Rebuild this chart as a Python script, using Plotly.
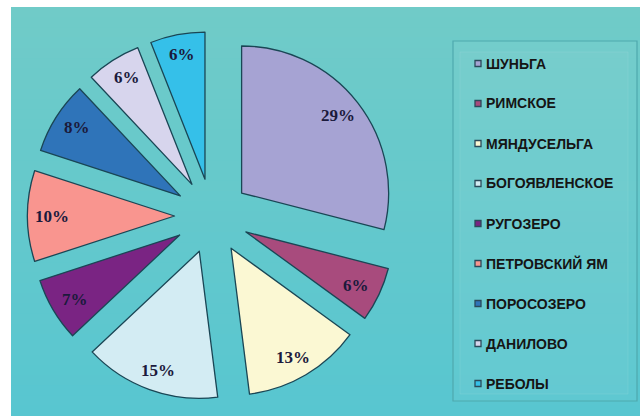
import math
import plotly.graph_objects as go

labels = ["ШУНЬГА", "РИМСКОЕ", "МЯНДУСЕЛЬГА", "БОГОЯВЛЕНСКОЕ", "РУГОЗЕРО",
          "ПЕТРОВСКИЙ ЯМ", "ПОРОСОЗЕРО", "ДАНИЛОВО", "РЕБОЛЫ"]
values = [29, 6, 13, 15, 7, 10, 8, 6, 6]
colors = ["#A6A3D3", "#A84B7D", "#FBF8D3", "#D3ECF3", "#7A2483",
          "#F9958F", "#2F74B9", "#D7D5ED", "#35C0E9"]

W, H = 640, 416
PULL = 0.255
# pie domain in pixels (left, right, top, bottom)
DX0, DX1, DY0, DY1 = 27.5, 396.5, 31.5, 400.5

fig = go.Figure()
fig.add_trace(go.Pie(
    labels=labels, values=values, sort=False, direction="clockwise", rotation=0,
    marker=dict(colors=colors, line=dict(color="#1A4655", width=1.3)),
    pull=[PULL] * len(values),
    textinfo="none", hoverinfo="label+percent",
    showlegend=False,
    domain=dict(x=[DX0 / W, DX1 / W], y=[1 - DY1 / H, 1 - DY0 / H]),
))

# percentage labels placed along each slice's mid-angle (same geometry as the pie)
cx, cy = (DX0 + DX1) / 2, (DY0 + DY1) / 2
r = min(DX1 - DX0, DY1 - DY0) / (2 * (1 + PULL))
total = sum(values)
annotations = []
cum = 0
for v in values:
    mid = (cum + v / 2) / total * 2 * math.pi
    cum += v
    ux, uy = math.sin(mid), -math.cos(mid)
    dist = PULL * r + 0.83 * r
    px, py = cx + ux * dist, cy + uy * dist * 1.03
    annotations.append(dict(x=px / W, y=1 - py / H, xref="paper", yref="paper",
                            text="<b>%d%%</b>" % round(v / total * 100), showarrow=False,
                            xanchor="center", yanchor="middle",
                            font=dict(family="Liberation Serif", size=17, color="#1B1A3C")))

shapes = []
# background gradient (teal)
n = 40
top_c = (112, 203, 200)
bot_c = (88, 198, 208)
y0, y1 = 7, H
for i in range(n):
    t = i / (n - 1)
    c = tuple(int(round(top_c[k] + (bot_c[k] - top_c[k]) * t)) for k in range(3))
    ya = y0 + (y1 - y0) * i / n
    yb = y0 + (y1 - y0) * (i + 1) / n + 1
    shapes.append(dict(type="rect", xref="paper", yref="paper", layer="below",
                       x0=11 / W, x1=1, y0=1 - min(yb, H) / H, y1=1 - ya / H,
                       line=dict(width=0), fillcolor="rgb(%d,%d,%d)" % c))
# legend box
shapes.append(dict(type="rect", xref="paper", yref="paper", layer="below",
                   x0=453 / W, x1=637 / W, y0=1 - 401 / H, y1=1 - 41 / H,
                   line=dict(color="#4FA9AE", width=1.2), fillcolor="rgba(255,255,255,0.04)"))
shapes.append(dict(type="rect", xref="paper", yref="paper", layer="below",
                   x0=460 / W, x1=628 / W, y0=1 - 394 / H, y1=1 - 52 / H,
                   line=dict(color="rgba(255,255,255,0.08)", width=1), fillcolor="rgba(255,255,255,0.03)"))

leg_y0, leg_step = 63.5, 40
for i, (lab, col) in enumerate(zip(labels, colors)):
    yc = leg_y0 + leg_step * i
    shapes.append(dict(type="rect", xref="paper", yref="paper",
                       x0=475 / W, x1=481 / W, y0=1 - (yc + 3) / H, y1=1 - (yc - 3) / H,
                       line=dict(color="#2A4A5A", width=1.3), fillcolor=col))
    annotations.append(dict(x=484 / W, y=1 - yc / H, xref="paper", yref="paper",
                            text="<b>%s</b>" % lab, showarrow=False, xanchor="left", yanchor="middle",
                            font=dict(family="Liberation Sans", size=14, color="#151515")))

fig.update_layout(width=W, height=H, margin=dict(l=0, r=0, t=0, b=0),
                  paper_bgcolor="white", plot_bgcolor="white",
                  shapes=shapes, annotations=annotations)
fig.write_html("out.html", config={"displayModeBar": False},
               post_script="document.body.style.margin='0px';")
